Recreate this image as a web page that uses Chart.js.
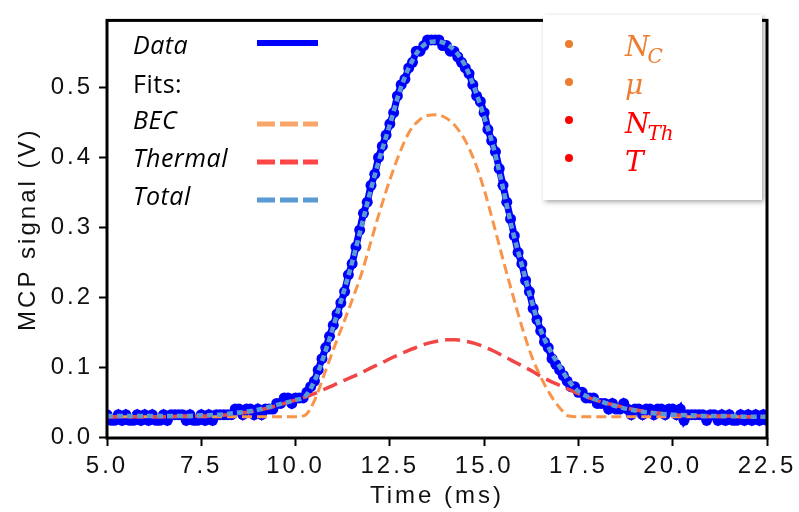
<!DOCTYPE html>
<html>
<head>
<meta charset="utf-8">
<script src="https://cdn.jsdelivr.net/npm/chart.js@4.4.0/dist/chart.umd.min.js"></script>
<style>
  html, body { margin: 0; padding: 0; background: #fff; }
  #wrap { width: 799px; height: 512px; }
</style>
</head>
<body>
<div id="wrap"><canvas id="mcpChart" width="799" height="512"></canvas></div>
<script>
// measured MCP signal, one sample every 0.1 ms starting at 5.0 ms
const dataSignal = [
  0.032, 0.024, 0.024, 0.032, 0.024, 0.032, 0.024, 0.024, 0.032, 0.024, // 5.0
  0.032, 0.024, 0.032, 0.024, 0.024, 0.032, 0.024, 0.032, 0.032, 0.032, // 6.0
  0.032, 0.024, 0.032, 0.024, 0.024, 0.032, 0.024, 0.032, 0.024, 0.032, // 7.0
  0.032, 0.032, 0.032, 0.032, 0.040, 0.040, 0.032, 0.040, 0.040, 0.032, // 8.0
  0.040, 0.032, 0.040, 0.040, 0.040, 0.048, 0.048, 0.056, 0.056, 0.048, // 9.0
  0.056, 0.056, 0.056, 0.064, 0.072, 0.080, 0.096, 0.112, 0.128, 0.144, // 10.0
  0.160, 0.176, 0.192, 0.208, 0.232, 0.248, 0.272, 0.296, 0.320, 0.336, // 11.0
  0.360, 0.376, 0.400, 0.416, 0.432, 0.448, 0.464, 0.488, 0.504, 0.512, // 12.0
  0.528, 0.536, 0.552, 0.552, 0.560, 0.568, 0.568, 0.568, 0.568, 0.560, // 13.0
  0.560, 0.552, 0.552, 0.544, 0.536, 0.528, 0.520, 0.504, 0.488, 0.480, // 14.0
  0.464, 0.440, 0.424, 0.408, 0.384, 0.360, 0.336, 0.312, 0.288, 0.264, // 15.0
  0.248, 0.224, 0.208, 0.184, 0.168, 0.152, 0.136, 0.128, 0.112, 0.104, // 16.0
  0.096, 0.088, 0.080, 0.072, 0.072, 0.064, 0.064, 0.056, 0.056, 0.056, // 17.0
  0.048, 0.048, 0.048, 0.040, 0.048, 0.040, 0.040, 0.048, 0.040, 0.032, // 18.0
  0.040, 0.040, 0.032, 0.040, 0.040, 0.032, 0.040, 0.040, 0.032, 0.040, // 19.0
  0.040, 0.032, 0.040, 0.024, 0.032, 0.032, 0.032, 0.032, 0.032, 0.024, // 20.0
  0.032, 0.032, 0.024, 0.032, 0.024, 0.032, 0.024, 0.024, 0.032, 0.024, // 21.0
  0.032, 0.024, 0.032, 0.024, 0.032, 0.024                              // 22.0
];
const dataTime = dataSignal.map((_, i) => +(5 + i * 0.1).toFixed(1));

// fit curves, sampled on one shared time grid (ms)
const fitTime = [
  5.0, 5.5, 6.0, 6.5, 7.0, 7.5, 8.0, 8.5, 9.0, 9.5,
  10.0, 10.25, 10.5, 10.75, 11.0, 11.25, 11.5, 11.75, 12.0, 12.25,
  12.5, 12.75, 13.0, 13.25, 13.5, 13.75, 14.0, 14.25, 14.5, 14.75,
  15.0, 15.25, 15.5, 15.75, 16.0, 16.25, 16.5, 16.75, 17.0, 17.25, 17.5,
  18.0, 18.5, 19.0, 19.5, 20.0, 20.5, 21.0, 21.5, 22.0, 22.5
];
const becFit = [
  0.029, 0.029, 0.029, 0.029, 0.029, 0.029, 0.029, 0.029, 0.029, 0.029,
  0.029, 0.031, 0.052, 0.088, 0.125, 0.160, 0.196, 0.234, 0.280, 0.326,
  0.368, 0.405, 0.435, 0.452, 0.460, 0.461, 0.456, 0.444, 0.424, 0.394,
  0.354, 0.305, 0.254, 0.205, 0.158, 0.117, 0.086, 0.061, 0.042, 0.030, 0.029,
  0.029, 0.029, 0.029, 0.029, 0.029, 0.029, 0.029, 0.029, 0.029, 0.029
];
const thermalFit = [
  0.029, 0.029, 0.029, 0.029, 0.030, 0.030, 0.031, 0.034, 0.038, 0.045,
  0.053, 0.057, 0.062, 0.068, 0.074, 0.080, 0.086, 0.092, 0.099, 0.105,
  0.112, 0.118, 0.124, 0.129, 0.134, 0.137, 0.139, 0.139, 0.137, 0.134,
  0.129, 0.123, 0.116, 0.109, 0.102, 0.095, 0.087, 0.080, 0.074, 0.068, 0.062,
  0.052, 0.045, 0.039, 0.035, 0.032, 0.031, 0.030, 0.030, 0.029, 0.029
];
const totalFit = [
  0.030, 0.030, 0.030, 0.030, 0.030, 0.031, 0.032, 0.035, 0.039, 0.046,
  0.053, 0.058, 0.080, 0.116, 0.158, 0.203, 0.250, 0.302, 0.355, 0.403,
  0.447, 0.493, 0.528, 0.552, 0.564, 0.566, 0.562, 0.551, 0.531, 0.498,
  0.458, 0.414, 0.356, 0.296, 0.246, 0.196, 0.153, 0.124, 0.101, 0.080, 0.065,
  0.053, 0.044, 0.038, 0.034, 0.032, 0.031, 0.030, 0.030, 0.029, 0.029
];

const xTicks = [5.0, 7.5, 10.0, 12.5, 15.0, 17.5, 20.0, 22.5];
const yTicks = [0.0, 0.1, 0.2, 0.3, 0.4, 0.5];

const legendLabels = ['Data', 'Fits:', 'BEC', 'Thermal', 'Total'];
const paramLabels = [
  { main: 'N', sub: 'C' },
  { main: 'μ', sub: '' },
  { main: 'N', sub: 'Th' },
  { main: 'T', sub: '' }
];

const pts = (xs, ys) => xs.map((x, i) => ({ x: x, y: ys[i] }));

const axisFont = { family: '"Liberation Sans", Arial, sans-serif', size: 24 };

// letter spacing for axis text (the original is drawn quite wide)
const spacing = {
  id: 'spacing',
  beforeDraw(chart) { chart.ctx.letterSpacing = '3px'; },
  afterDraw(chart) { chart.ctx.letterSpacing = '0px'; }
};

const frame = {
  id: 'frame',
  afterDatasetsDraw(chart) {
    const { ctx, chartArea: a } = chart;
    ctx.save();
    ctx.strokeStyle = '#000';
    ctx.lineWidth = 3;
    ctx.strokeRect(a.left, a.top, a.right - a.left, a.bottom - a.top);
    ctx.restore();
  }
};

const annotations = {
  id: 'annotations',
  afterDraw(chart) {
    const ctx = chart.ctx;
    ctx.save();
    ctx.letterSpacing = '0.5px';

    // left legend
    const rowsY = [47, 86, 122, 160, 198];
    const italic = [true, false, true, true, true];
    const samples = [
      { color: '#0000ff', dash: [], width: 6 },
      null,
      { color: '#f9a66a', dash: [18, 5], width: 5 },
      { color: '#ff4545', dash: [18, 5], width: 5 },
      { color: '#5b9bd5', dash: [18, 5], width: 5 }
    ];
    ctx.textBaseline = 'middle';
    ctx.fillStyle = '#000';
    legendLabels.forEach((label, i) => {
      ctx.font = (italic[i] ? 'italic ' : '') + '25px "Open Sans", sans-serif';
      ctx.fillText(label, 133, rowsY[i]);
      const s = samples[i];
      if (s) {
        const ly = i === 0 ? 43 : rowsY[i] + 2;
        ctx.beginPath();
        ctx.setLineDash(s.dash);
        ctx.strokeStyle = s.color;
        ctx.lineWidth = s.width;
        ctx.moveTo(257, ly);
        ctx.lineTo(318, ly);
        ctx.stroke();
      }
    });
    ctx.setLineDash([]);

    // parameter box
    ctx.save();
    ctx.shadowColor = 'rgba(0,0,0,0.35)';
    ctx.shadowBlur = 5;
    ctx.shadowOffsetX = 2;
    ctx.shadowOffsetY = 2;
    ctx.fillStyle = '#fff';
    ctx.fillRect(543, 15, 219, 185);
    ctx.restore();

    const colors = ['#ed7d31', '#ed7d31', '#ff0000', '#ff0000'];
    const bulletY = [44, 82, 120, 158];
    const baseY = [56, 94, 133, 171];
    ctx.letterSpacing = '0px';
    ctx.textBaseline = 'alphabetic';
    paramLabels.forEach((p, i) => {
      ctx.fillStyle = colors[i];
      ctx.beginPath();
      ctx.arc(569, bulletY[i], 4, 0, Math.PI * 2);
      ctx.fill();
      ctx.font = 'italic 28px "DejaVu Serif", serif';
      ctx.fillText(p.main, 625, baseY[i]);
      if (p.sub) {
        const w = ctx.measureText(p.main).width;
        ctx.font = 'italic 20px "DejaVu Serif", serif';
        ctx.fillText(p.sub, 625 + w - 2, baseY[i] + 7);
      }
    });
    ctx.restore();
  }
};

new Chart(document.getElementById('mcpChart'), {
  type: 'line',
  data: {
    datasets: [
      {
        label: 'Total',
        data: pts(fitTime, totalFit),
        borderColor: '#5b9bd5',
        borderWidth: 4.5,
        borderDash: [6, 4],
        pointRadius: 0,
        cubicInterpolationMode: 'monotone',
        order: 0
      },
      {
        label: 'Thermal',
        data: pts(fitTime, thermalFit),
        borderColor: '#f24545',
        borderWidth: 3.5,
        borderDash: [15, 7],
        pointRadius: 0,
        cubicInterpolationMode: 'monotone',
        order: 1
      },
      {
        label: 'BEC',
        data: pts(fitTime, becFit),
        borderColor: '#f8954a',
        borderWidth: 3,
        borderDash: [10, 5],
        pointRadius: 0,
        cubicInterpolationMode: 'monotone',
        order: 2
      },
      {
        label: 'Data',
        data: pts(dataTime, dataSignal),
        borderColor: '#0000ff',
        backgroundColor: '#0000ff',
        borderWidth: 7,
        pointRadius: 5.5,
        pointBorderWidth: 0,
        order: 3
      }
    ]
  },
  options: {
    responsive: false,
    animation: false,
    layout: { padding: { top: 10, right: 32, left: 0, bottom: 0 } },
    plugins: {
      legend: { display: false },
      tooltip: { enabled: false }
    },
    scales: {
      x: {
        type: 'linear',
        min: 5,
        max: 22.5,
        afterFit: s => { s.height = 74; },
        afterBuildTicks: s => { s.ticks = xTicks.map(v => ({ value: v })); },
        ticks: {
          font: axisFont,
          color: '#111',
          padding: 6,
          maxRotation: 0,
          callback: v => v.toFixed(1)
        },
        grid: { drawOnChartArea: false, tickLength: 8, tickWidth: 2, tickColor: '#000' },
        border: { display: false },
        title: {
          display: true,
          text: 'Time (ms)',
          font: axisFont,
          color: '#111',
          padding: { top: 0, bottom: 1 }
        }
      },
      y: {
        type: 'linear',
        min: -0.0014,
        max: 0.596,
        afterFit: s => { s.width = 107; },
        afterBuildTicks: s => { s.ticks = yTicks.map(v => ({ value: v })); },
        ticks: {
          font: axisFont,
          color: '#111',
          padding: 6,
          callback: v => v.toFixed(1)
        },
        grid: { drawOnChartArea: false, tickLength: 8, tickWidth: 2, tickColor: '#000' },
        border: { display: false },
        title: {
          display: true,
          text: 'MCP signal (V)',
          font: axisFont,
          color: '#111',
          padding: { top: 14, bottom: 0 }
        }
      }
    }
  },
  plugins: [spacing, frame, annotations]
});
</script>
</body>
</html>
